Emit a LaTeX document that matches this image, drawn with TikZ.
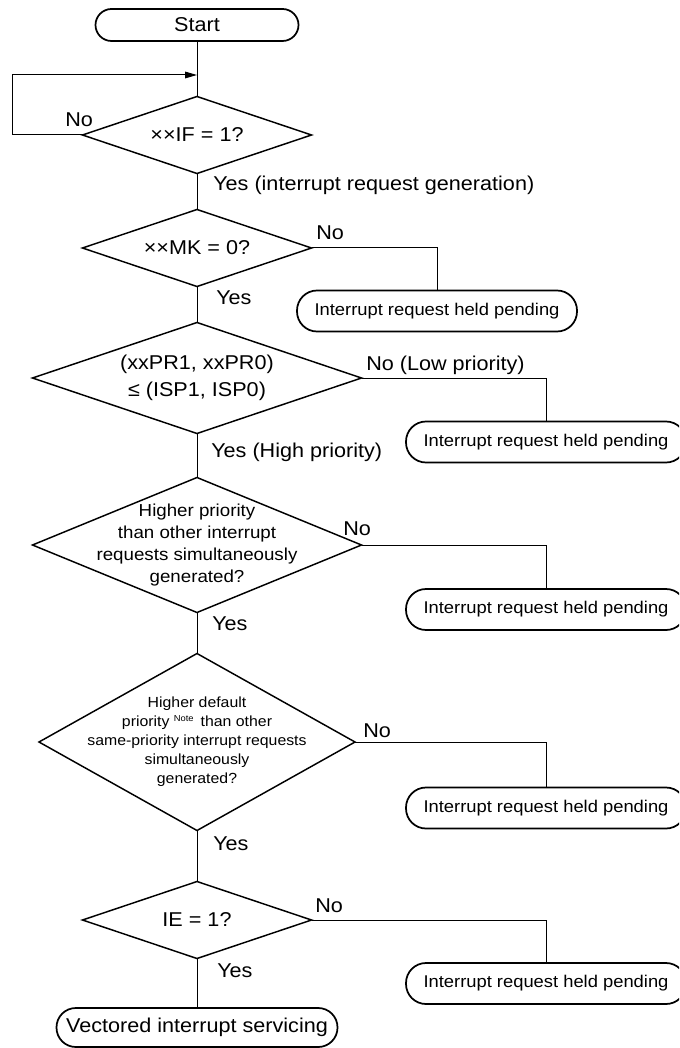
\documentclass[tikz,border=0pt]{standalone}
\usepackage{fontspec}
\setmainfont{Liberation Sans}[FakeStretch=1.08]
\usetikzlibrary{shapes.geometric,arrows.meta}
\newcommand\fsz[2]{\fontsize{#1}{#2}\selectfont}
\begin{document}
\begin{tikzpicture}[x=0.75pt,y=-0.75pt,
  term/.style={draw, line width=1.3pt, rounded corners=15pt, minimum width=210pt,
    minimum height=30.75pt, inner sep=0pt, outer sep=0pt, font=\fsz{12.75}{15}},
  dia/.style={draw, diamond, line width=1.1pt, inner sep=0pt, outer sep=0pt},
  dtext/.style={align=center, inner sep=0pt, font=\fsz{15}{20.25}},
  lab/.style={anchor=base west, inner sep=0pt, font=\fsz{15}{18}},
  conn/.style={line width=0.75pt}]
\useasboundingbox (0,0) rectangle (679,1048);
\clip (0,0) rectangle (679,1048);

% terminals
\node[term, minimum width=152.25pt, minimum height=24pt, rounded corners=12pt,
  font=\fsz{15}{18}] (start) at (197,25) {Start};
\node[term, minimum width=210.75pt, minimum height=29.25pt, rounded corners=14.5pt,
  font=\fsz{15}{18}] (vec) at (197,1027.5) {Vectored interrupt servicing};

% decisions
\node[dia, minimum width=171.75pt, minimum height=57.75pt] (d1) at (197,135) {};
\node[dtext] (t1) at (d1) {××IF = 1?};
\node[dia, minimum width=171.75pt, minimum height=57.75pt] (d2) at (197,248) {};
\node[dtext] (t2) at (d2) {××MK = 0?};
\node[dia, minimum width=246.75pt, minimum height=83.25pt] (d3) at (197,378) {};
\node[dtext] (t3) at (d3) {(xxPR1, xxPR0)\\≤ (ISP1, ISP0)};
\node[dia, minimum width=246.75pt, minimum height=101.25pt] (d4) at (197,545) {};
\node[dtext, font=\fsz{13}{16.5}] (t4) at (d4) {Higher priority\\than other interrupt\\requests simultaneously\\generated?};
\node[dia, minimum width=237pt, minimum height=132.75pt] (d5) at (197,742) {};
\node[dtext, font=\fsz{11}{14.25}] (t5) at (d5) {Higher default\\priority {\fsz{6.5}{7}\raisebox{3.6pt}{Note}}\hspace{2pt} than other\\same-priority interrupt requests\\simultaneously\\generated?};
\node[dia, minimum width=171.75pt, minimum height=57.75pt] (d6) at (197,920) {};
\node[dtext] (t6) at (d6) {IE = 1?};

% pending boxes
\node[term] (b1) at (437,311) {Interrupt request held pending};
\node[term] (b2) at (546,442) {Interrupt request held pending};
\node[term] (b3) at (546,609.5) {Interrupt request held pending};
\node[term] (b4) at (546,808) {Interrupt request held pending};
\node[term] (b5) at (546,983.5) {Interrupt request held pending};

% main flow
\draw[conn] (start.south) -- (d1.north);
\draw[conn] (d1.south) -- (d2.north);
\draw[conn] (d2.south) -- (d3.north);
\draw[conn] (d3.south) -- (d4.north);
\draw[conn] (d4.south) -- (d5.north);
\draw[conn] (d5.south) -- (d6.north);
\draw[conn] (d6.south) -- (vec.north);

% loop back
\coordinate (loopL) at (12,135);
\coordinate (join) at (197,75);
\draw[conn, -{Triangle[length=9pt, width=5pt]}] (d1.west) -- (loopL) |- (join);

% No branches
\draw[conn] (d2.east) -| (b1.north);
\draw[conn] (d3.east) -| (b2.north);
\draw[conn] (d4.east) -| (b3.north);
\draw[conn] (d5.east) -| (b4.north);
\draw[conn] (d6.east) -| (b5.north);

% labels
\node[lab] (n1) at (65,127) {No};
\node[lab] (y1) at (213,191) {Yes (interrupt request generation)};
\node[lab] (n2) at (316,240) {No};
\node[lab] (y2) at (216,305) {Yes};
\node[lab] (n3) at (366,370) {No (Low priority)};
\node[lab] (y3) at (211,457) {Yes (High priority)};
\node[lab] (n4) at (343,535) {No};
\node[lab] (y4) at (212,630) {Yes};
\node[lab] (n5) at (363,737) {No};
\node[lab] (y5) at (213,850) {Yes};
\node[lab] (n6) at (315,912) {No};
\node[lab] (y6) at (217,977) {Yes};
\end{tikzpicture}
\end{document}
